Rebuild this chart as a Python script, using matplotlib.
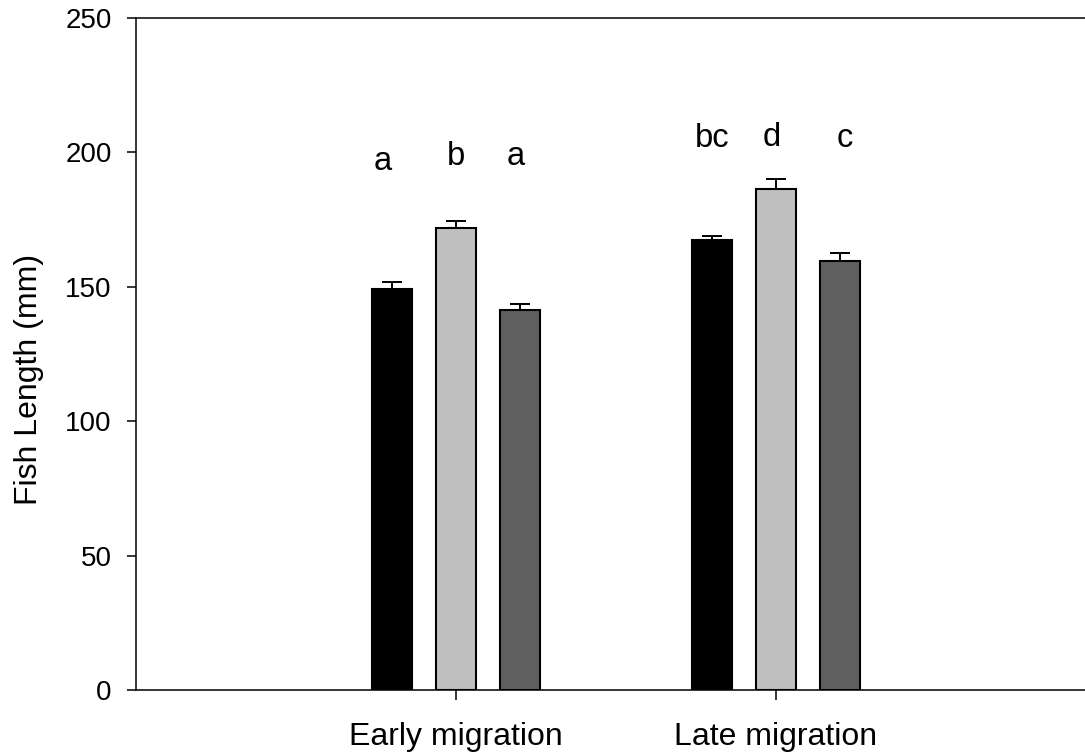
import matplotlib
matplotlib.use("Agg")
import matplotlib.pyplot as plt
import numpy as np

plt.rcParams['font.family'] = ['Liberation Sans', 'DejaVu Sans']

# mean fish length (mm) and upper SE for each group
groups = ["Early migration", "Late migration"]
means_black = [149.3, 167.4]
means_light = [172.0, 186.2]
means_dark = [141.5, 159.5]
se_black = [2.4, 1.4]
se_light = [2.4, 3.8]
se_dark = [2.2, 3.1]
letters = [["a", "b", "a"], ["bc", "d", "c"]]

# where the significance letters sit (x offset from group centre, baseline y)
letter_dx = [[-0.228, 0.0, 0.186], [-0.198, -0.012, 0.214]]
letter_y = [[193.6, 195.2, 195.2], [201.9, 202.5, 201.9]]

fig = plt.figure(figsize=(10.85, 7.55), dpi=100)
# right edge of the axes runs past the figure, so no right spine shows
ax = fig.add_axes([136 / 1085, 1 - 690 / 755, 960 / 1085, 672 / 755])

x = np.arange(len(groups))
w = 0.125
off = 0.2
series = [(means_black, se_black, "#000000"),
          (means_light, se_light, "#c0c0c0"),
          (means_dark, se_dark, "#606060")]

for i, (m, se, c) in enumerate(series):
    xs = x + (i - 1) * off
    ax.bar(xs, m, width=w, color=c, edgecolor="black", linewidth=1.5, zorder=2)
    ax.errorbar(xs, m, yerr=[np.zeros(len(m)), se], fmt="none", ecolor="black",
                elinewidth=1.4, capsize=7.5, capthick=1.4, zorder=3)

for g in range(len(groups)):
    for k in range(3):
        ax.text(x[g] + letter_dx[g][k], letter_y[g][k], letters[g][k],
                ha="center", va="baseline", fontsize=23.5)

ax.set_xlim(-1, 2)
ax.set_ylim(0, 250)
ax.set_yticks([0, 50, 100, 150, 200, 250])
ax.set_xticks(x)
ax.set_xticklabels(groups, fontsize=23)
ax.tick_params(axis="y", labelsize=20, length=6.5, width=1.1, pad=11, direction="out")
ax.tick_params(axis="x", length=7, width=1.1, pad=16, direction="out")

for s in ["left", "top", "bottom", "right"]:
    ax.spines[s].set_linewidth(1.1)

fig.text(29 / 1085, 1 - 379 / 755, "Fish Length (mm)", rotation=90,
         ha="center", va="center", fontsize=23)

fig.savefig("out.png", dpi=100)
